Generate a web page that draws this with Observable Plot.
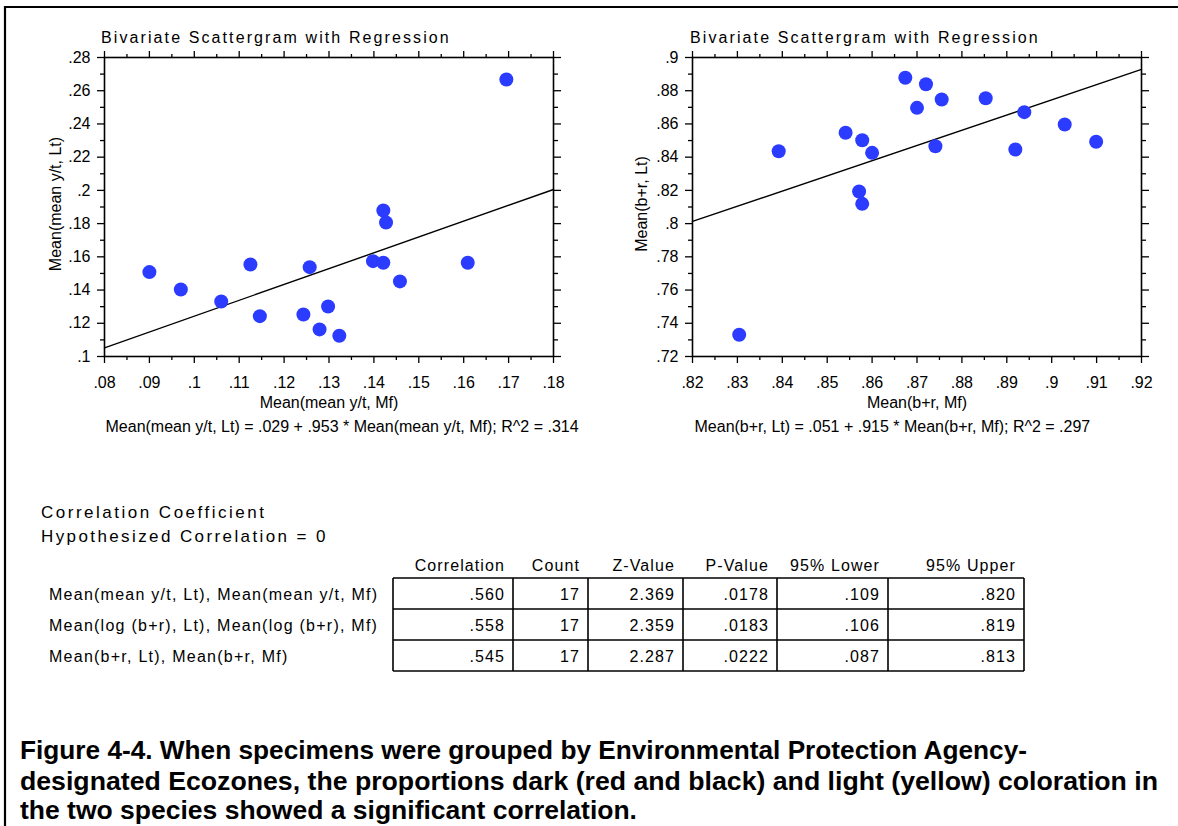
<!DOCTYPE html>
<html>
<head>
<meta charset="utf-8">
<script src="https://cdn.jsdelivr.net/npm/d3@7"></script>
<script src="https://cdn.jsdelivr.net/npm/@observablehq/plot@0.6"></script>
<style>
  html, body { margin: 0; padding: 0; background: #fff; }
  body { width: 1178px; height: 826px; position: relative; overflow: hidden;
         font-family: "Liberation Sans", Arial, sans-serif; color: #000; }
  .panel { position: absolute; top: 0; }
  #overlay { position: absolute; left: 0; top: 0; pointer-events: none; }
</style>
</head>
<body>
<div id="left" class="panel" style="left:0px"></div>
<div id="right" class="panel" style="left:600px"></div>
<svg id="overlay" width="1178" height="826"></svg>
<script>
// ---- Panel 1: mean yellow/total proportion, Mf (x) vs Lt (y), one point per ecozone
const ytMf = [0.0900, 0.0970, 0.1060, 0.1125, 0.1146, 0.1243, 0.1257, 0.1279, 0.1298,
              0.1323, 0.1398, 0.1421, 0.1421, 0.1427, 0.1458, 0.1609, 0.1695];
const ytLt = [0.1508, 0.1403, 0.1331, 0.1554, 0.1243, 0.1253, 0.1538, 0.1163, 0.1301,
              0.1125, 0.1574, 0.1564, 0.1879, 0.1807, 0.1452, 0.1564, 0.2668];
const ytFit = {intercept: 0.029, slope: 0.953, r2: 0.314};
const ytXTicks = [0.08, 0.09, 0.10, 0.11, 0.12, 0.13, 0.14, 0.15, 0.16, 0.17, 0.18];
const ytYTicks = [0.10, 0.12, 0.14, 0.16, 0.18, 0.20, 0.22, 0.24, 0.26, 0.28];

// ---- Panel 2: mean black+red proportion, Mf (x) vs Lt (y)
const brMf = [0.8304, 0.8392, 0.8541, 0.8571, 0.8578, 0.8578, 0.8600, 0.8674, 0.8700,
              0.8720, 0.8741, 0.8755, 0.8853, 0.8919, 0.8939, 0.9029, 0.9099];
const brLt = [0.7331, 0.8436, 0.8547, 0.8193, 0.8502, 0.8119, 0.8426, 0.8878, 0.8697,
              0.8839, 0.8466, 0.8747, 0.8755, 0.8446, 0.8671, 0.8597, 0.8493];
const brFit = {intercept: 0.051, slope: 0.915, r2: 0.297};
const brXTicks = [0.82, 0.83, 0.84, 0.85, 0.86, 0.87, 0.88, 0.89, 0.90, 0.91, 0.92];
const brYTicks = [0.72, 0.74, 0.76, 0.78, 0.80, 0.82, 0.84, 0.86, 0.88, 0.90];

// ---- Correlation table
const corrHeaders = ["Correlation", "Count", "Z-Value", "P-Value", "95% Lower", "95% Upper"];
const corrRows = ["Mean(mean y/t, Lt), Mean(mean y/t, Mf)",
                  "Mean(log (b+r), Lt), Mean(log (b+r), Mf)",
                  "Mean(b+r, Lt), Mean(b+r, Mf)"];
const corrR     = [".560", ".558", ".545"];
const corrN     = ["17", "17", "17"];
const corrZ     = ["2.369", "2.359", "2.287"];
const corrP     = [".0178", ".0183", ".0222"];
const corrLower = [".109", ".106", ".087"];
const corrUpper = [".820", ".819", ".813"];

const captionLines = [
  "Figure 4-4. When specimens were grouped by Environmental Protection Agency-",
  "designated Ecozones, the proportions dark (red and black) and light (yellow) coloration in",
  "the two species showed a significant correlation."
];

const FONT = "'Liberation Sans', Arial, sans-serif";
const BLUE = "#2b3bff";

// ".28" style labels: no leading zero, no trailing zeros
const fmt = d => String(+d.toFixed(3)).replace(/^0\./, ".").replace(/^-0\./, "-.");
const blank = () => "";
const midpoints = a => a.slice(1).map((v, i) => (v + a[i]) / 2);
const fitText = (yName, xName, f) =>
  `${yName} = ${fmt(f.intercept)} + ${fmt(f.slope)} * ${xName}; R^2 = ${fmt(f.r2)}`;

function scatter({xs, ys, xTicks, yTicks, fit, xName, yName, width, marginLeft, marginRight, yLabelDx, eqDx}) {
  const pts = xs.map((x, i) => ({x, y: ys[i]}));
  const xDomain = [xTicks[0], xTicks[xTicks.length - 1]];
  const yDomain = [yTicks[0], yTicks[yTicks.length - 1]];
  const line = xDomain.map(x => ({x, y: fit.intercept + fit.slope * x}));
  const xMinor = midpoints(xTicks), yMinor = midpoints(yTicks);
  return Plot.plot({
    width, height: 445,
    marginLeft, marginRight, marginTop: 57, marginBottom: 89,
    x: {domain: xDomain, label: null},
    y: {domain: yDomain, label: null},
    style: {fontSize: "16px", fontFamily: FONT, background: "transparent", color: "#000", overflow: "visible"},
    marks: [
      Plot.axisY({ticks: yTicks, tickFormat: fmt, tickSize: 7, tickPadding: 7, label: null, strokeWidth: 1.3}),
      Plot.axisY({ticks: yMinor, tickFormat: blank, tickSize: 4, label: null, strokeWidth: 1.3}),
      Plot.axisY({anchor: "right", ticks: yTicks, tickFormat: blank, tickSize: 7, label: null, strokeWidth: 1.3}),
      Plot.axisY({anchor: "right", ticks: yMinor, tickFormat: blank, tickSize: 4, label: null, strokeWidth: 1.3}),
      Plot.axisX({ticks: xTicks, tickFormat: fmt, tickSize: 7, tickPadding: 13, label: null, strokeWidth: 1.3}),
      Plot.axisX({ticks: xMinor, tickFormat: blank, tickSize: 4, label: null, strokeWidth: 1.3}),
      Plot.axisX({anchor: "top", ticks: xTicks, tickFormat: blank, tickSize: 7, label: null, strokeWidth: 1.3}),
      Plot.axisX({anchor: "top", ticks: xMinor, tickFormat: blank, tickSize: 4, label: null, strokeWidth: 1.3}),
      Plot.frame({stroke: "#000", strokeWidth: 1.6}),
      Plot.line(line, {x: "x", y: "y", stroke: "#000", strokeWidth: 1.4}),
      Plot.dot(pts, {x: "x", y: "y", r: 7, fill: BLUE}),
      Plot.text([xName], {frameAnchor: "bottom", lineAnchor: "middle", textAnchor: "middle", dy: 46, text: d => d}),
      Plot.text([fitText(yName, xName, fit)], {frameAnchor: "bottom-left", lineAnchor: "middle", textAnchor: "start", dx: eqDx, dy: 70, text: d => d}),
      Plot.text([yName], {frameAnchor: "left", lineAnchor: "middle", textAnchor: "middle", rotate: -90, dx: yLabelDx, dy: -3, text: d => d})
    ]
  });
}

document.getElementById("left").append(scatter({
  xs: ytMf, ys: ytLt, xTicks: ytXTicks, yTicks: ytYTicks, fit: ytFit,
  xName: "Mean(mean y/t, Mf)", yName: "Mean(mean y/t, Lt)",
  width: 600, marginLeft: 104, marginRight: 47, yLabelDx: -49, eqDx: 1
}));
document.getElementById("right").append(scatter({
  xs: brMf, ys: brLt, xTicks: brXTicks, yTicks: brYTicks, fit: brFit,
  xName: "Mean(b+r, Mf)", yName: "Mean(b+r, Lt)",
  width: 578, marginLeft: 92, marginRight: 37, yLabelDx: -51, eqDx: 2
}));

// ---- Titles, table, caption and page frame
const svg = d3.select("#overlay").attr("font-family", FONT);

// page frame (top and left rules)
svg.append("line").attr("x1", 4).attr("x2", 1178).attr("y1", 7).attr("y2", 7)
  .attr("stroke", "#000").attr("stroke-width", 2.2);
svg.append("line").attr("x1", 5).attr("x2", 5).attr("y1", 6).attr("y2", 826)
  .attr("stroke", "#000").attr("stroke-width", 2.2);

// panel titles
[101, 690].forEach(x => svg.append("text").attr("x", x).attr("y", 43)
  .attr("font-size", 16).attr("letter-spacing", 2.1)
  .text("Bivariate Scattergram with Regression"));

// correlation section headings
svg.append("text").attr("x", 41).attr("y", 518).attr("font-size", 17).attr("letter-spacing", 2.5)
  .text("Correlation Coefficient");
svg.append("text").attr("x", 41).attr("y", 542).attr("font-size", 17).attr("letter-spacing", 2.4)
  .text("Hypothesized Correlation = 0");

// table
const colEdges = [393, 513, 588, 683, 777, 888, 1024];
const rowEdges = [578, 609, 640, 671];
const columns = [corrR, corrN, corrZ, corrP, corrLower, corrUpper];
const pad = 8;
const tbl = svg.append("g").attr("font-size", 16);

corrHeaders.forEach((h, j) => tbl.append("text")
  .attr("x", colEdges[j + 1] - pad).attr("y", 571)
  .attr("text-anchor", "end").attr("letter-spacing", 1.1).text(h));

corrRows.forEach((label, i) => {
  const yMid = (rowEdges[i] + rowEdges[i + 1]) / 2;
  tbl.append("text").attr("x", 49).attr("y", yMid + 6).attr("letter-spacing", 1.25).text(label);
  columns.forEach((col, j) => tbl.append("text")
    .attr("x", colEdges[j + 1] - pad).attr("y", yMid + 6)
    .attr("text-anchor", "end").attr("letter-spacing", 1.1).text(col[i]));
});

// grid lines of the table
rowEdges.forEach(y => tbl.append("line")
  .attr("x1", colEdges[0]).attr("x2", colEdges[colEdges.length - 1])
  .attr("y1", y).attr("y2", y).attr("stroke", "#000").attr("stroke-width", 1.6));
colEdges.forEach(x => tbl.append("line")
  .attr("x1", x).attr("x2", x)
  .attr("y1", rowEdges[0]).attr("y2", rowEdges[rowEdges.length - 1])
  .attr("stroke", "#000").attr("stroke-width", 1.6));

// figure caption
const capWidths = [1007, 1138, 617];
const capBase = [759, 790, 819];
captionLines.forEach((t, i) => svg.append("text")
  .attr("x", 20).attr("y", capBase[i])
  .attr("font-size", 25).attr("font-weight", "bold")
  .attr("font-family", "'Liberation Sans Narrow', 'Liberation Sans', Arial, sans-serif")
  .attr("textLength", capWidths[i]).attr("lengthAdjust", "spacingAndGlyphs")
  .text(t));
</script>
</body>
</html>
